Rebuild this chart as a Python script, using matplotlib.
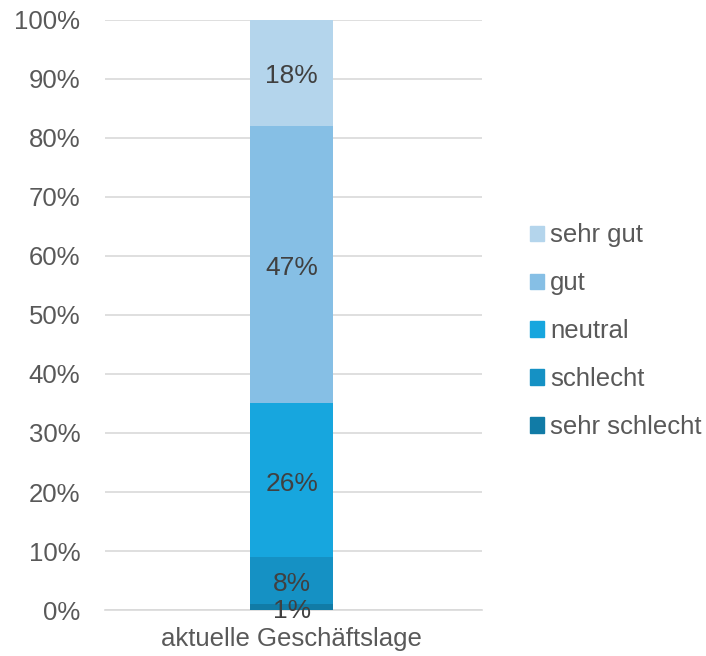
import matplotlib
matplotlib.use("Agg")
import matplotlib.pyplot as plt
from matplotlib.patches import Patch

plt.rcParams["font.family"] = ["Liberation Sans", "DejaVu Sans"]

category = "aktuelle Geschäftslage"
levels = ["sehr schlecht", "schlecht", "neutral", "gut", "sehr gut"]
shares = [1, 8, 26, 47, 18]
colors = ["#117ba6", "#1591c4", "#17a6de", "#86bfe5", "#b4d5ec"]

fig = plt.figure(figsize=(7.06, 6.56), dpi=100)
ax = fig.add_axes([0.149, 0.070, 0.534, 0.900])

bottom = 0
for level, val, col in zip(levels, shares, colors):
    ax.bar([0], [val], bottom=bottom, width=0.22, color=col, zorder=3, label=level)
    ax.annotate(f"{val}%", (0, bottom + val / 2), xytext=(0, -2.5),
                textcoords="offset points", ha="center", va="center",
                fontsize=19, color="#404040", zorder=4)
    bottom += val

ax.set_xlim(-0.495, 0.505)
ax.set_ylim(0, 100)
ax.set_yticks(range(0, 101, 10))
ax.set_yticklabels([f"{v}%" for v in range(0, 101, 10)])
ax.set_xticks([0])
ax.set_xticklabels([category])
ax.tick_params(axis="both", length=0, labelsize=18.5, labelcolor="#595959")
ax.tick_params(axis="y", pad=18)
ax.tick_params(axis="x", pad=12)
ax.yaxis.grid(True, color="#d9d9d9", linewidth=1.2, zorder=0)
for s in ["top", "right", "left"]:
    ax.spines[s].set_visible(False)
ax.spines["bottom"].set_color("#d9d9d9")
ax.spines["bottom"].set_linewidth(1.2)

handles = [Patch(color=c, label=l) for l, c in zip(levels, colors)][::-1]
fig.legend(handles=handles, loc="center left", bbox_to_anchor=(0.732, 0.495),
           frameon=False, fontsize=18.5, labelcolor="#595959",
           handlelength=0.55, handleheight=0.55, handletextpad=0.25,
           labelspacing=0.93, borderpad=0)

fig.savefig("out.png", dpi=100)
